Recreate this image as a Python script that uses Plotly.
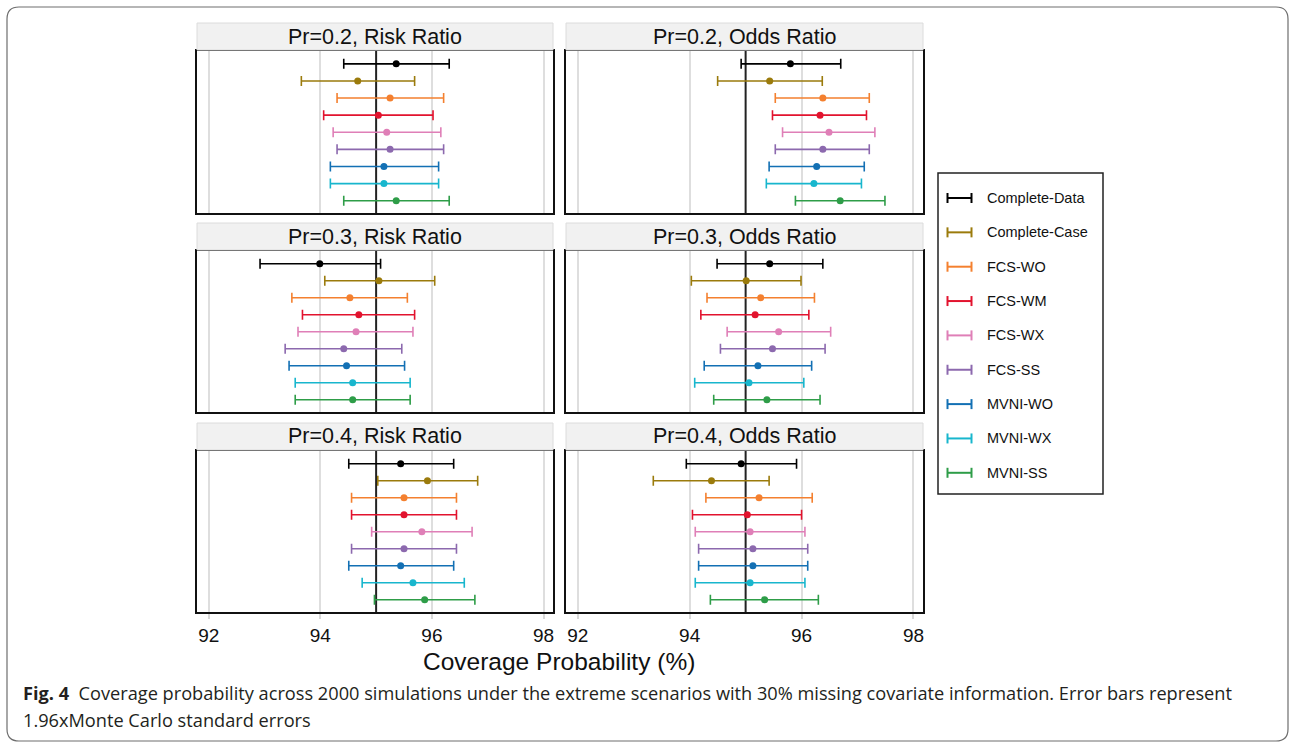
import plotly.graph_objects as go

W, H = 1292, 742

methods = ["Complete-Data", "Complete-Case", "FCS-WO", "FCS-WM", "FCS-WX",
           "FCS-SS", "MVNI-WO", "MVNI-WX", "MVNI-SS"]
colors = ["#000000", "#9b7b0c", "#f4802f", "#e2132e", "#df7fb7",
          "#8c69ae", "#1370b4", "#18b6cd", "#2e9d48"]

panel_titles = ["Pr=0.2, Risk Ratio", "Pr=0.2, Odds Ratio",
                "Pr=0.3, Risk Ratio", "Pr=0.3, Odds Ratio",
                "Pr=0.4, Risk Ratio", "Pr=0.4, Odds Ratio"]

# Pr=0.2 Risk Ratio
est_rr02 = [95.36, 94.67, 95.25, 95.04, 95.19, 95.25, 95.14, 95.14, 95.36]
lo_rr02 = [94.42, 93.66, 94.30, 94.06, 94.23, 94.30, 94.18, 94.18, 94.42]
hi_rr02 = [96.31, 95.69, 96.21, 96.02, 96.16, 96.21, 96.12, 96.12, 96.31]
# Pr=0.2 Odds Ratio
est_or02 = [95.80, 95.43, 96.38, 96.33, 96.49, 96.38, 96.27, 96.22, 96.69]
lo_or02 = [94.92, 94.50, 95.53, 95.48, 95.66, 95.53, 95.42, 95.37, 95.89]
hi_or02 = [96.70, 96.37, 97.21, 97.16, 97.31, 97.21, 97.12, 97.07, 97.49]
# Pr=0.3 Risk Ratio
est_rr03 = [93.99, 95.05, 94.53, 94.69, 94.64, 94.42, 94.47, 94.58, 94.58]
lo_rr03 = [92.92, 94.08, 93.49, 93.68, 93.60, 93.37, 93.44, 93.55, 93.55]
hi_rr03 = [95.08, 96.05, 95.56, 95.69, 95.66, 95.46, 95.51, 95.61, 95.61]
# Pr=0.3 Odds Ratio
est_or03 = [95.43, 95.01, 95.27, 95.17, 95.59, 95.48, 95.22, 95.06, 95.38]
lo_or03 = [94.49, 94.03, 94.31, 94.20, 94.67, 94.55, 94.26, 94.09, 94.43]
hi_or03 = [96.38, 95.99, 96.23, 96.13, 96.52, 96.42, 96.18, 96.04, 96.33]
# Pr=0.4 Risk Ratio
est_rr04 = [95.44, 95.92, 95.50, 95.50, 95.82, 95.50, 95.44, 95.66, 95.87]
lo_rr04 = [94.51, 95.03, 94.56, 94.56, 94.92, 94.56, 94.51, 94.75, 94.97]
hi_rr04 = [96.39, 96.82, 96.44, 96.44, 96.72, 96.44, 96.39, 96.58, 96.77]
# Pr=0.4 Odds Ratio
est_or04 = [94.92, 94.39, 95.24, 95.03, 95.08, 95.13, 95.13, 95.08, 95.34]
lo_or04 = [93.94, 93.35, 94.29, 94.05, 94.10, 94.16, 94.16, 94.10, 94.37]
hi_or04 = [95.91, 95.42, 96.19, 96.00, 96.06, 96.11, 96.11, 96.06, 96.30]

tick_vals = [92, 94, 96, 98]
nominal = 95
x_title = "Coverage Probability (%)"
caption_l1 = ("<b>Fig. 4</b>  Coverage probability across 2000 simulations under the extreme "
              "scenarios with 30% missing covariate information. Error bars represent")
caption_l2 = "1.96xMonte Carlo standard errors"

panels = [(est_rr02, lo_rr02, hi_rr02), (est_or02, lo_or02, hi_or02),
          (est_rr03, lo_rr03, hi_rr03), (est_or03, lo_or03, hi_or03),
          (est_rr04, lo_rr04, hi_rr04), (est_or04, lo_or04, hi_or04)]


def px(x):
    return x / W


def py(y):
    return 1 - y / H


col_px = [(197, 553), (566, 923)]
row_px = [(51, 213), (251, 412), (451, 612)]
strip_px = [(23, 50), (223, 250), (423, 450)]

MAIN_FONT = "Liberation Sans, Arial, sans-serif"

fig = go.Figure()
layout = dict(
    width=W, height=H, margin=dict(l=0, r=0, t=0, b=0),
    paper_bgcolor="white", plot_bgcolor="white", showlegend=False,
    font=dict(family=MAIN_FONT, color="#000000"),
)
shapes = []
annotations = []

for p, (est, lo, hi) in enumerate(panels):
    r, c = divmod(p, 2)
    n = p + 1
    xa = "x" if n == 1 else f"x{n}"
    ya = "y" if n == 1 else f"y{n}"
    ypos = list(range(len(methods)))
    for i, m in enumerate(methods):
        fig.add_trace(go.Scatter(
            x=[est[i]], y=[ypos[i]], mode="markers", name=m,
            marker=dict(color=colors[i], size=7),
            error_x=dict(type="data", symmetric=False,
                         array=[hi[i] - est[i]], arrayminus=[est[i] - lo[i]],
                         color=colors[i], thickness=1.6, width=5),
            xaxis=xa, yaxis=ya, showlegend=False,
        ))
    x0, x1 = col_px[c]
    y0, y1 = row_px[r]
    layout["xaxis" if n == 1 else f"xaxis{n}"] = dict(
        domain=[px(x0), px(x1)], range=[91.79, 98.17], anchor=ya,
        tickvals=tick_vals, showticklabels=(r == 2),
        ticks="outside" if r == 2 else "", ticklen=5, tickwidth=2, tickcolor="#d9d9d9",
        showgrid=True, gridcolor="#dedede", gridwidth=2, zeroline=False,
        showline=True, mirror=True, linecolor="#111111", linewidth=1.6,
        tickfont=dict(size=19, color="#111111"),
    )
    layout["yaxis" if n == 1 else f"yaxis{n}"] = dict(
        domain=[py(y1), py(y0)], range=[8.72, -0.75], anchor=xa,
        showticklabels=False, ticks="", showgrid=False, zeroline=False,
        showline=True, mirror=True, linecolor="#111111", linewidth=1.6,
    )
    shapes.append(dict(type="line", xref=xa, yref=f"{ya} domain",
                       x0=nominal, x1=nominal, y0=0, y1=1,
                       line=dict(color="#222222", width=2), layer="below"))
    s0, s1 = strip_px[r]
    shapes.append(dict(type="rect", xref="paper", yref="paper",
                       x0=px(x0), x1=px(x1), y0=py(s1), y1=py(s0),
                       fillcolor="#f1f1f1", line=dict(color="#dcdcdc", width=1)))
    annotations.append(dict(text=panel_titles[p], xref="paper", yref="paper",
                            x=px((x0 + x1) / 2), y=py((s0 + s1) / 2),
                            xanchor="center", yanchor="middle", showarrow=False,
                            font=dict(size=21.5, color="#111111", family=MAIN_FONT)))

# x-axis title
annotations.append(dict(text=x_title, xref="paper", yref="paper",
                        x=px(559), y=py(661), xanchor="center", yanchor="middle",
                        showarrow=False, font=dict(size=24.5, color="#111111", family=MAIN_FONT)))

# legend (drawn manually to show error-bar glyphs)
lx0, lx1, ly0, ly1 = 938, 1103, 173, 494
shapes.append(dict(type="rect", xref="paper", yref="paper",
                   x0=px(lx0), x1=px(lx1), y0=py(ly1), y1=py(ly0),
                   line=dict(color="#222222", width=1.5), fillcolor="rgba(0,0,0,0)"))
for i, m in enumerate(methods):
    yy = 198 + i * 34.35
    shapes.append(dict(type="line", xref="paper", yref="paper",
                       x0=px(947), x1=px(972), y0=py(yy), y1=py(yy),
                       line=dict(color=colors[i], width=2)))
    for xc in (947.5, 971.5):
        shapes.append(dict(type="line", xref="paper", yref="paper",
                           x0=px(xc), x1=px(xc), y0=py(yy - 5), y1=py(yy + 5),
                           line=dict(color=colors[i], width=2)))
    annotations.append(dict(text=m, xref="paper", yref="paper",
                            x=px(985), y=py(yy), xanchor="left", yanchor="middle",
                            showarrow=False, font=dict(size=14.5, color="#111111", family=MAIN_FONT)))

# caption
CAP_FONT = "Open Sans, Noto Sans, sans-serif"
annotations.append(dict(text=caption_l1, xref="paper", yref="paper",
                        x=px(21), y=py(693), xanchor="left", yanchor="middle",
                        showarrow=False, font=dict(size=18.2, color="#231f20", family=CAP_FONT)))
annotations.append(dict(text=caption_l2, xref="paper", yref="paper",
                        x=px(21), y=py(720), xanchor="left", yanchor="middle",
                        showarrow=False, font=dict(size=18.2, color="#231f20", family=CAP_FONT)))

# outer rounded frame
bx0, bx1, by0, by1, rad = 7, 1288, 7, 741, 12
path = (f"M {px(bx0 + rad)},{py(by0)} L {px(bx1 - rad)},{py(by0)} "
        f"Q {px(bx1)},{py(by0)} {px(bx1)},{py(by0 + rad)} "
        f"L {px(bx1)},{py(by1 - rad)} Q {px(bx1)},{py(by1)} {px(bx1 - rad)},{py(by1)} "
        f"L {px(bx0 + rad)},{py(by1)} Q {px(bx0)},{py(by1)} {px(bx0)},{py(by1 - rad)} "
        f"L {px(bx0)},{py(by0 + rad)} Q {px(bx0)},{py(by0)} {px(bx0 + rad)},{py(by0)} Z")
shapes.append(dict(type="path", xref="paper", yref="paper", path=path,
                   line=dict(color="#6e6e6e", width=1.2), fillcolor="rgba(0,0,0,0)"))

layout["shapes"] = shapes
layout["annotations"] = annotations
fig.update_layout(**layout)
fig.write_html("out.html", config={"displayModeBar": False},
               post_script="document.body.style.margin='0';document.body.style.overflow='hidden';")
